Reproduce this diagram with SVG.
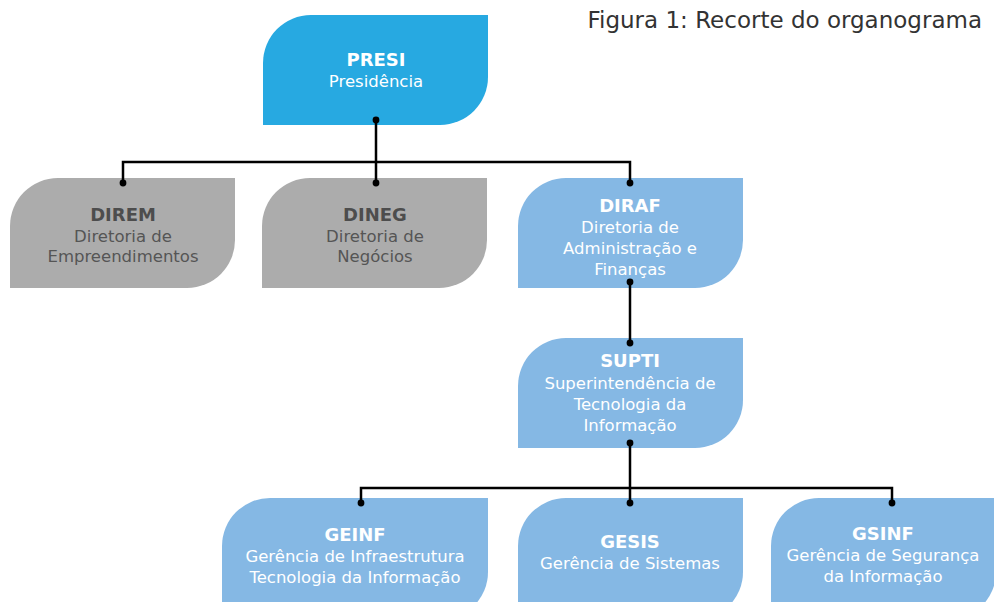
<svg xmlns="http://www.w3.org/2000/svg" width="994" height="602" viewBox="0 0 994 602">
<defs>
<style>
.t{font-family:"DejaVu Sans","Noto Sans",sans-serif;text-anchor:middle}
.b{font-weight:bold;font-size:18px}
.n{font-size:16.5px}
.w{fill:#ffffff}
.g{fill:#4d4d4d}
.gl{fill:#555555}
.presi{fill:#27a9e1}
.grey{fill:#acacac}
.blue{fill:#85b8e4}
.ln{fill:none;stroke:#000;stroke-width:2.5}
</style>
</defs>
<rect width="994" height="602" fill="#ffffff"/>
<text x="982" y="28" style="font-family:'DejaVu Sans','Noto Sans',sans-serif;font-size:23px;fill:#333;text-anchor:end">Figura 1: Recorte do organograma</text>

<g id="PRESI">
<path class="presi" d="M263,125 V63 A48,48 0 0 1 311,15 H488 V77 A48,48 0 0 1 440,125 Z"/>
<text class="t b w" x="376" y="66">PRESI</text>
<text class="t n w" x="376" y="87">Presidência</text>
</g>
<g id="DIREM">
<path class="grey" d="M10,288 V226 A48,48 0 0 1 58,178 H235 V240 A48,48 0 0 1 187,288 Z"/>
<text class="t b g" x="123" y="221">DIREM</text>
<text class="t n gl" x="123" y="242">Diretoria de</text>
<text class="t n gl" x="123" y="262">Empreendimentos</text>
</g>
<g id="DINEG">
<path class="grey" d="M262,288 V226 A48,48 0 0 1 310,178 H487 V240 A48,48 0 0 1 439,288 Z"/>
<text class="t b g" x="375" y="221">DINEG</text>
<text class="t n gl" x="375" y="242">Diretoria de</text>
<text class="t n gl" x="375" y="262">Negócios</text>
</g>
<g id="DIRAF">
<path class="blue" d="M518,288 V226 A48,48 0 0 1 566,178 H743 V240 A48,48 0 0 1 695,288 Z"/>
<text class="t b w" x="630" y="212">DIRAF</text>
<text class="t n w" x="630" y="233">Diretoria de</text>
<text class="t n w" x="630" y="254">Administração e</text>
<text class="t n w" x="630" y="275">Finanças</text>
</g>
<g id="SUPTI">
<path class="blue" d="M518,448 V386 A48,48 0 0 1 566,338 H743 V400 A48,48 0 0 1 695,448 Z"/>
<text class="t b w" x="630" y="367">SUPTI</text>
<text class="t n w" x="630" y="389">Superintendência de</text>
<text class="t n w" x="630" y="410">Tecnologia da</text>
<text class="t n w" x="630" y="431">Informação</text>
</g>
<g id="GEINF">
<path class="blue" d="M222,620 V546 A48,48 0 0 1 270,498 H488 V572 A48,48 0 0 1 440,620 Z"/>
<text class="t b w" x="355" y="541">GEINF</text>
<text class="t n w" x="355" y="562">Gerência de Infraestrutura</text>
<text class="t n w" x="355" y="583">Tecnologia da Informação</text>
</g>
<g id="GESIS">
<path class="blue" d="M518,620 V546 A48,48 0 0 1 566,498 H743 V572 A48,48 0 0 1 695,620 Z"/>
<text class="t b w" x="630" y="548">GESIS</text>
<text class="t n w" x="630" y="569">Gerência de Sistemas</text>
</g>
<g id="GSINF">
<path class="blue" d="M771,620 V546 A48,48 0 0 1 819,498 H996 V572 A48,48 0 0 1 948,620 Z"/>
<text class="t b w" x="883" y="540">GSINF</text>
<text class="t n w" x="883" y="561">Gerência de Segurança</text>
<text class="t n w" x="883" y="582">da Informação</text>
</g>

<g id="connectors">
<path class="ln" d="M376,120 V162 M123,183 V162 H630 V183 M376,162 V183"/>
<path class="ln" d="M630,282 V343"/>
<path class="ln" d="M630,443 V503 M361,503 V488 H892 V503"/>
<g fill="#000">
<circle cx="376" cy="120" r="3.4"/>
<circle cx="123" cy="183" r="3.4"/>
<circle cx="376" cy="183" r="3.4"/>
<circle cx="630" cy="183" r="3.4"/>
<circle cx="630" cy="282" r="3.4"/>
<circle cx="630" cy="343" r="3.4"/>
<circle cx="630" cy="443" r="3.4"/>
<circle cx="361" cy="503" r="3.4"/>
<circle cx="630" cy="503" r="3.4"/>
<circle cx="892" cy="503" r="3.4"/>
</g>
</g>
</svg>
